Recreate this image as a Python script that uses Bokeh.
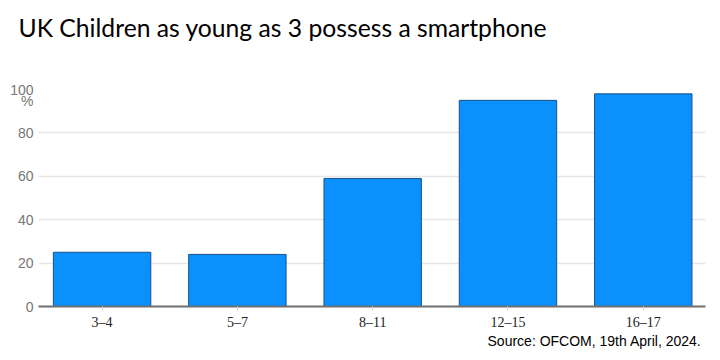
from bokeh.plotting import figure
from bokeh.models import ColumnDataSource, FixedTicker, Range1d, Title
from bokeh.embed import file_html
from bokeh.resources import INLINE

age_groups = ["3–4", "5–7", "8–11", "12–15", "16–17"]
share_pct = [25, 24, 59, 95, 98]
y_ticks = [0, 20, 40, 60, 80, 100]
unit_tick = 94.5
title_text = "UK Children as young as 3 possess a smartphone"
source_text = "Source: OFCOM, 19th April, 2024."

pos = list(range(len(age_groups)))
src = ColumnDataSource(data=dict(x=pos, val=share_pct))

p = figure(x_range=Range1d(-0.47, len(age_groups) - 0.54),
           y_range=Range1d(0, 100),
           frame_width=667, frame_height=217,
           output_backend="svg", toolbar_location=None,
           min_border_left=38, min_border_right=15, min_border_top=89, min_border_bottom=54)

p.vbar(x="x", top="val", width=0.72, source=src,
       fill_color="#0a91fd", line_color="#1a4f8a", line_width=1)

p.outline_line_color = None
p.xgrid.grid_line_color = None
p.ygrid.ticker = FixedTicker(ticks=y_ticks)
p.ygrid.grid_line_color = "#e6e6e6"
p.ygrid.grid_line_width = 1.5
p.yaxis.ticker = FixedTicker(ticks=y_ticks + [unit_tick])
p.yaxis.major_label_overrides = {unit_tick: "%"}
p.yaxis.axis_line_color = None
p.yaxis.major_tick_line_color = None
p.yaxis.minor_tick_line_color = None
p.yaxis.major_tick_out = 0
p.yaxis.major_tick_in = 0
p.yaxis.major_label_text_font = "Liberation Sans"
p.yaxis.major_label_text_font_size = "14px"
p.yaxis.major_label_text_color = "#777777"
p.yaxis.major_label_standoff = 5

p.xaxis.ticker = FixedTicker(ticks=pos)
p.xaxis.major_label_overrides = {i: lab for i, lab in zip(pos, age_groups)}
p.xaxis.minor_tick_line_color = None
p.xaxis.axis_line_color = "#6e6e6e"
p.xaxis.axis_line_width = 2
p.xaxis.major_tick_line_color = "#cccccc"
p.xaxis.major_tick_out = 4
p.xaxis.major_tick_in = 0
p.xaxis.major_label_text_font = "Liberation Serif"
p.xaxis.major_label_text_font_size = "14px"
p.xaxis.major_label_text_color = "#222222"
p.xaxis.major_label_standoff = 4

# spacer (closest to the plot), then the main title above it
p.add_layout(Title(text=" ", text_font_size="1px", standoff=40), "above")
p.add_layout(Title(text=title_text, align="left", offset=-20, standoff=10,
                   text_font="Lato", text_font_style="normal", text_font_size="24.7px",
                   text_color="#000000"), "above")

p.add_layout(Title(text=source_text, align="right", offset=4, text_font="Liberation Sans",
                   text_font_size="14px", text_font_style="normal", text_color="#000000",
                   standoff=-4), "below")

open("out.html", "w").write(file_html(p, INLINE))
